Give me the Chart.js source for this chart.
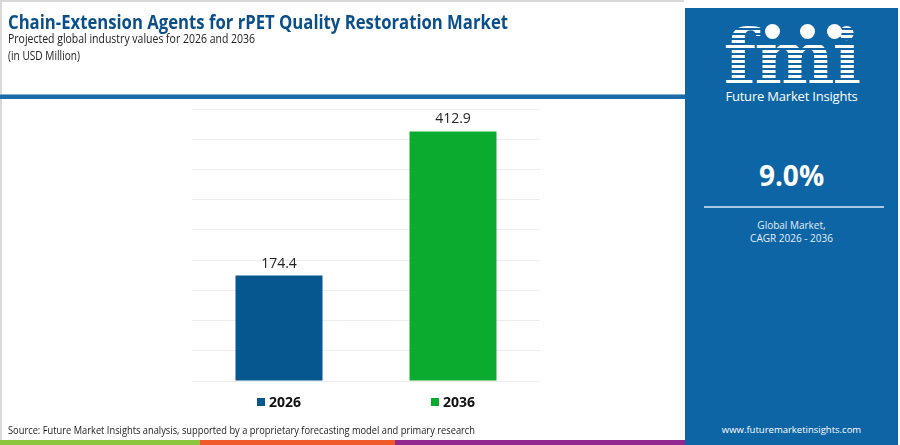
<!DOCTYPE html>
<html>
<head>
<meta charset="utf-8">
<script src="https://cdn.jsdelivr.net/npm/chart.js"></script>
<style>
    html, body { margin: 0; padding: 0; background: #ffffff; }
    body { width: 900px; height: 445px; position: relative; overflow: hidden; font-family: "Open Sans", "Noto Sans", sans-serif; }
    .frame { position: absolute; left: 0; top: 0; width: 684px; height: 440px; border-left: 2px solid #d9d9d9; border-top: 2px solid #d9d9d9; box-sizing: border-box; }
    .fit { position: absolute; left: 8px; white-space: nowrap; transform-origin: left top; }
    .title { top: 8px; font-size: 19.5px; font-weight: 700; color: #0b4f8a; }
    .sub { font-size: 12.5px; color: #222; }
    .rule { position: absolute; left: 0; top: 94px; width: 685px; height: 4px; background: #1d6aa8; border-top: 1px solid #7fb0d8; }
    .source { top: 422px; font-size: 11.5px; color: #222; }
    .stripe { position: absolute; top: 440px; height: 5px; }
    .panel { position: absolute; left: 685px; top: 8px; width: 213px; height: 437px; background: #0d65a5; color: #fff; text-align: center; }
    .logo { position: absolute; left: 0; width: 213px; top: 12px; font-family: "DejaVu Serif", serif; font-weight: 700; font-size: 76px; line-height: 76px; letter-spacing: -2px;
            background: repeating-linear-gradient(#ffffff 0 3px, transparent 3px 5px); -webkit-background-clip: text; background-clip: text; color: transparent; }
    .globe { position: absolute; width: 15px; height: 15px; border-radius: 50%; background: #ffffff; z-index: 2; }
    .brand { position: absolute; left: 0; width: 213px; top: 79px; font-size: 13px; letter-spacing: -0.2px; }
    .cagr { position: absolute; left: 0; width: 213px; top: 148px; font-size: 28px; font-weight: 700; }
    .line { position: absolute; left: 19px; width: 180px; top: 198px; height: 2px; background: #a9c9e6; }
    .note { position: absolute; left: 0; width: 213px; top: 211px; font-size: 10px; line-height: 12.5px; color: #e4eef8; }
    .web { position: absolute; left: 0; width: 213px; top: 415px; font-size: 9.5px; color: #fff; }
    #wrap { position: absolute; left: 182px; top: 100px; width: 368px; height: 320px; }
</style>
</head>
<body>
<div class="frame"></div>
<div class="fit title" data-w="500">Chain-Extension Agents for rPET Quality Restoration Market</div>
<div class="fit sub" data-w="247" style="top:30px">Projected global industry values for 2026 and 2036</div>
<div class="fit sub" data-w="72" style="top:47px">(in USD Million)</div>
<div class="rule"></div>

<div id="wrap"><canvas id="chart"></canvas></div>

<div class="fit source" data-w="467">Source: Future Market Insights analysis, supported by a proprietary forecasting model and primary research</div>
<div class="stripe" style="left:0;width:200px;background:#8cc63f"></div>
<div class="stripe" style="left:200px;width:195px;background:#f05a28"></div>
<div class="stripe" style="left:395px;width:290px;background:#92278f"></div>

<div class="panel">
    <div class="logo">fmi</div>
    <div class="globe" style="left:80px;top:16px"></div>
    <div class="globe" style="left:115px;top:16px"></div>
    <div class="globe" style="left:142px;top:16px"></div>
    <div class="brand">Future Market Insights</div>
    <div class="cagr">9.0%</div>
    <div class="line"></div>
    <div class="note">Global Market,<br>CAGR 2026 - 2036</div>
    <div class="web">www.futuremarketinsights.com</div>
</div>

<script>
// Chart data
const years = ['2026', '2036'];
const marketValues = [174.4, 412.9];
const barColors = ['#06578f', '#0aab2f'];
const axisMax = 450;
const axisStep = 50;

// squeeze header/footer text to the widths seen in the original
document.querySelectorAll('.fit').forEach(el => {
    const target = parseFloat(el.dataset.w);
    const w = el.getBoundingClientRect().width;
    if (w > 0) el.style.transform = 'scaleX(' + (target / w) + ')';
});

// Value labels above each bar
const valueLabels = {
    id: 'valueLabels',
    afterDatasetsDraw(chart) {
        const ctx = chart.ctx;
        const meta = chart.getDatasetMeta(0);
        ctx.save();
        ctx.font = '14px "Open Sans", sans-serif';
        ctx.fillStyle = '#222222';
        ctx.textAlign = 'center';
        ctx.textBaseline = 'bottom';
        meta.data.forEach((bar, i) => {
            ctx.fillText(marketValues[i].toFixed(1), bar.x, bar.y - 5);
        });
        ctx.restore();
    }
};

// Square marker + year under each bar
const yearKeys = {
    id: 'yearKeys',
    afterDraw(chart) {
        const ctx = chart.ctx;
        const xScale = chart.scales.x;
        const y = chart.chartArea.bottom + 21;
        ctx.save();
        ctx.font = 'bold 14px "Open Sans", sans-serif';
        ctx.textBaseline = 'middle';
        ctx.textAlign = 'left';
        years.forEach((label, i) => {
            const w = ctx.measureText(label).width;
            const total = 8 + 4 + w;
            const cx = xScale.getPixelForValue(i);
            const left = cx - total / 2;
            ctx.fillStyle = barColors[i];
            ctx.fillRect(left, y - 4, 8, 8);
            ctx.fillStyle = '#111111';
            ctx.fillText(label, left + 12, y + 1);
        });
        ctx.restore();
    }
};

new Chart(document.getElementById('chart'), {
    type: 'bar',
    data: {
        labels: years,
        datasets: [{
            data: marketValues,
            backgroundColor: barColors,
            borderWidth: 0,
            barPercentage: 0.5,
            categoryPercentage: 1.0
        }]
    },
    options: {
        responsive: true,
        maintainAspectRatio: false,
        animation: false,
        layout: { padding: { left: 10, right: 10, top: 9, bottom: 39 } },
        plugins: {
            legend: { display: false },
            tooltip: { enabled: false }
        },
        scales: {
            x: {
                grid: { display: false, drawTicks: false },
                border: { display: false },
                ticks: { display: false }
            },
            y: {
                min: 0,
                max: axisMax,
                ticks: { display: false, stepSize: axisStep },
                grid: { color: '#eeeeee', lineWidth: 1, drawTicks: false },
                border: { display: false }
            }
        }
    },
    plugins: [valueLabels, yearKeys]
});
</script>
</body>
</html>
